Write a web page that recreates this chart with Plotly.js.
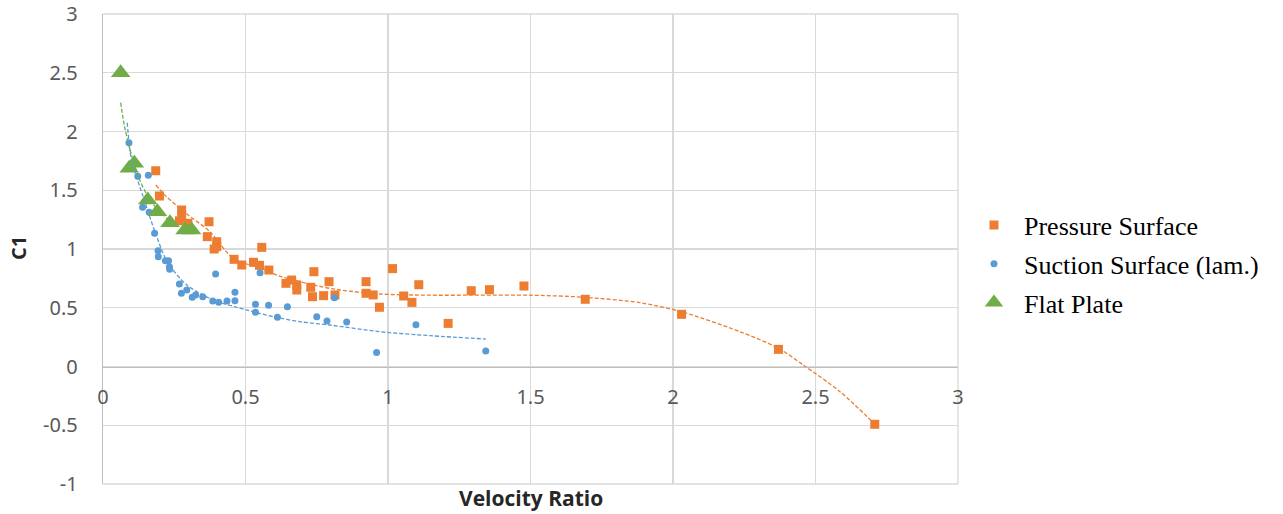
<!DOCTYPE html>
<html>
<head>
<meta charset="utf-8">
<script src="https://cdn.plot.ly/plotly-3.0.1.min.js"></script>
<style>html,body{margin:0;padding:0;background:#fff;}#chart{width:1283px;height:514px;}</style>
</head>
<body>
<div id="chart"></div>
<script>
// Pressure Surface (orange squares)
var pressureX = [0.185, 0.198, 0.276, 0.276, 0.268, 0.298, 0.372, 0.366, 0.399, 0.399, 0.39, 0.557, 0.46, 0.487, 0.528, 0.549, 0.582, 0.642, 0.662, 0.68, 0.68, 0.74, 0.729, 0.735, 0.774, 0.793, 0.814, 0.923, 0.923, 0.948, 0.97, 1.016, 1.055, 1.084, 1.108, 1.211, 1.292, 1.356, 1.477, 1.692, 2.03, 2.37, 2.708];
var pressureY = [1.666, 1.451, 1.332, 1.28, 1.24, 1.219, 1.232, 1.105, 1.062, 1.02, 1.0, 1.014, 0.912, 0.864, 0.887, 0.861, 0.821, 0.708, 0.736, 0.694, 0.651, 0.807, 0.674, 0.594, 0.603, 0.722, 0.609, 0.722, 0.623, 0.609, 0.504, 0.833, 0.6, 0.546, 0.696, 0.367, 0.645, 0.654, 0.685, 0.572, 0.444, 0.146, -0.492];

// Suction Surface (lam.) (blue dots)
var suctionX = [0.091, 0.122, 0.159, 0.139, 0.162, 0.181, 0.193, 0.194, 0.219, 0.23, 0.233, 0.234, 0.395, 0.268, 0.275, 0.294, 0.313, 0.325, 0.35, 0.385, 0.406, 0.435, 0.463, 0.463, 0.551, 0.535, 0.535, 0.581, 0.612, 0.647, 0.75, 0.786, 0.812, 0.855, 0.96, 1.098, 1.343];
var suctionY = [1.905, 1.62, 1.627, 1.355, 1.312, 1.134, 0.986, 0.934, 0.9, 0.9, 0.85, 0.827, 0.787, 0.702, 0.623, 0.651, 0.589, 0.609, 0.594, 0.557, 0.546, 0.557, 0.56, 0.631, 0.798, 0.529, 0.461, 0.521, 0.419, 0.509, 0.424, 0.387, 0.586, 0.379, 0.12, 0.356, 0.132];

// Flat Plate (green triangles)
var flatX = [0.062, 0.092, 0.11, 0.157, 0.191, 0.235, 0.288, 0.311];
var flatY = [2.50, 1.687, 1.729, 1.417, 1.317, 1.224, 1.162, 1.162];

// Trendlines
var pressureTrendX = [0.185, 0.223, 0.293, 0.375, 0.457, 0.551, 0.62, 0.796, 0.972, 1.15, 1.323, 1.498, 1.69, 1.884, 2.03, 2.235, 2.37, 2.457, 2.586, 2.708];
var pressureTrendY = [1.545, 1.445, 1.30, 1.147, 0.92, 0.836, 0.77, 0.665, 0.617, 0.607, 0.607, 0.607, 0.589, 0.543, 0.466, 0.296, 0.155, 0.013, -0.214, -0.49];
var suctionTrendX = [0.085, 0.1, 0.141, 0.182, 0.225, 0.294, 0.387, 0.504, 0.598, 0.691, 0.796, 0.972, 1.15, 1.343];
var suctionTrendY = [2.075, 1.757, 1.445, 1.15, 0.892, 0.694, 0.566, 0.481, 0.424, 0.381, 0.353, 0.296, 0.262, 0.234];
var flatTrendX = [0.062, 0.075, 0.092, 0.11, 0.13, 0.157, 0.19, 0.235, 0.288, 0.311];
var flatTrendY = [2.245, 2.05, 1.87, 1.72, 1.58, 1.45, 1.34, 1.24, 1.16, 1.13];

var xTickVals = [0, 0.5, 1, 1.5, 2, 2.5, 3];
var xTickText = ['0', '0.5', '1', '1.5', '2', '2.5', '3'];
var yTickVals = [-1, -0.5, 0, 0.5, 1, 1.5, 2, 2.5, 3];
var yTickText = ['-1', '-0.5', '0', '0.5', '1', '1.5', '2', '2.5', '3'];

var orange = '#ED7D31', blue = '#5B9BD5', green = '#70AD47';

var traces = [
  {x: pressureX, y: pressureY, type: 'scatter', mode: 'markers', name: 'Pressure Surface', legendgroup: 'a',
   marker: {symbol: 'square', size: 9, color: orange}},
  {x: suctionX, y: suctionY, type: 'scatter', mode: 'markers', name: 'Suction Surface (lam.)', legendgroup: 'b',
   marker: {symbol: 'circle', size: 7, color: blue}},
  {x: flatX, y: flatY, type: 'scatter', mode: 'markers', name: 'Flat Plate', legendgroup: 'c',
   marker: {symbol: 'triangle-up', size: 17, color: green}},
  {x: pressureTrendX, y: pressureTrendY, type: 'scatter', mode: 'lines', showlegend: false, hoverinfo: 'skip',
   line: {color: orange, width: 1.3, dash: '4px,2px', shape: 'spline', smoothing: 0.8}},
  {x: suctionTrendX, y: suctionTrendY, type: 'scatter', mode: 'lines', showlegend: false, hoverinfo: 'skip',
   line: {color: blue, width: 1.3, dash: '4px,2px', shape: 'spline', smoothing: 0.8}},
  {x: flatTrendX, y: flatTrendY, type: 'scatter', mode: 'lines', showlegend: false, hoverinfo: 'skip',
   line: {color: green, width: 1.3, dash: '4px,2px', shape: 'spline', smoothing: 0.8}}
];

var tickFont = {family: 'Noto Sans, Open Sans, sans-serif', size: 20, color: '#595959'};
var titleFont = {family: 'Open Sans, sans-serif', size: 21, color: '#262626', weight: 'bold'};
var layout = {
  width: 1283, height: 514,
  margin: {l: 103, r: 325, t: 14, b: 30, pad: 0},
  paper_bgcolor: '#ffffff', plot_bgcolor: '#ffffff',
  showlegend: true,
  xaxis: {
    range: [0, 3], tickmode: 'array', tickvals: xTickVals, ticktext: xTickText,
    showgrid: true, gridcolor: '#D9D9D9', gridwidth: 1.3,
    showline: true, linecolor: '#BFBFBF', linewidth: 1.3,
    zeroline: false, anchor: 'free', position: 0.25,
    ticks: 'outside', ticklen: 12, tickcolor: 'rgba(0,0,0,0)',
    tickfont: tickFont
  },
  yaxis: {
    range: [-1, 3], tickmode: 'array', tickvals: yTickVals, ticktext: yTickText,
    showgrid: true, gridcolor: '#D9D9D9', gridwidth: 1.3,
    showline: true, linecolor: '#BFBFBF', linewidth: 1.3,
    zeroline: false,
    ticks: 'outside', ticklen: 20, tickcolor: 'rgba(0,0,0,0)',
    tickfont: tickFont
  },
  legend: {
    x: 1.007, y: 0.601, xanchor: 'left', yanchor: 'top',
    font: {family: 'Liberation Serif, Times New Roman, serif', size: 26, color: '#000000'},
    bgcolor: 'rgba(0,0,0,0)', tracegroupgap: 2, traceorder: 'grouped', itemwidth: 50
  },
  shapes: [
    {type: 'line', xref: 'paper', yref: 'paper', x0: 0, x1: 1, y0: 0, y1: 0, layer: 'below', line: {color: '#D9D9D9', width: 1.3}},
    {type: 'line', xref: 'paper', yref: 'paper', x0: 0, x1: 1, y0: 1, y1: 1, layer: 'below', line: {color: '#D9D9D9', width: 1.3}},
    {type: 'line', xref: 'paper', yref: 'paper', x0: 1, x1: 1, y0: 0, y1: 1, layer: 'below', line: {color: '#D9D9D9', width: 1.3}}
  ],
  annotations: [
    {text: 'Velocity Ratio', xref: 'paper', yref: 'paper', x: 0.5, y: -0.0617, xanchor: 'center', yanchor: 'bottom',
     showarrow: false, font: titleFont, borderpad: 0},
    {text: 'C1', xref: 'paper', yref: 'paper', x: -0.0994, y: 0.502, xanchor: 'center', yanchor: 'middle',
     textangle: -90, showarrow: false, font: {family: 'Open Sans, sans-serif', size: 20, color: '#262626', weight: 'bold'}}
  ]
};

Plotly.newPlot('chart', traces, layout, {displayModeBar: false, staticPlot: true});
</script>
</body>
</html>
